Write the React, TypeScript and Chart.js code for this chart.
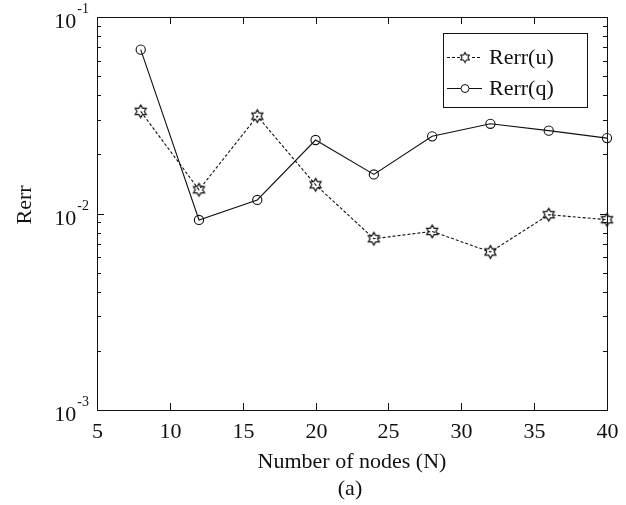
import React, { useEffect, useRef } from 'react';
import { Chart, registerables } from 'chart.js';

Chart.register(...registerables);

const nodes = [8, 12, 16, 20, 24, 28, 32, 36, 40];
const rerrU = [0.0331, 0.0132, 0.0313, 0.014, 0.00744, 0.00811, 0.00637, 0.00986, 0.0093];
const rerrQ = [0.0682, 0.00927, 0.01172, 0.02366, 0.0158, 0.0247, 0.0286, 0.0264, 0.0242];
const xTicks = [5, 10, 15, 20, 25, 30, 35, 40];
const yExponents = [-3, -2, -1];
const seriesNames = ['Rerr(u)', 'Rerr(q)'];
const xTitle = 'Number of nodes (N)';
const yTitle = 'Rerr';
const caption = '(a)';

const FONT = '"Liberation Serif", "Times New Roman", serif';
const INK = '#111111';

function makeHexagram(R: number, lw: number): HTMLCanvasElement {
  const size = Math.ceil(R * 2 + 4);
  const c = document.createElement('canvas');
  c.width = size;
  c.height = size;
  const g = c.getContext('2d')!;
  const cx = size / 2;
  const cy = size / 2;
  const r = R / Math.sqrt(3);
  g.lineWidth = lw;
  g.strokeStyle = INK;
  g.beginPath();
  for (let i = 0; i < 12; i++) {
    const ang = -Math.PI / 2 + (i * Math.PI) / 6;
    const rad = i % 2 === 0 ? R : r;
    const x = cx + rad * Math.cos(ang);
    const y = cy + rad * Math.sin(ang);
    if (i === 0) g.moveTo(x, y);
    else g.lineTo(x, y);
  }
  g.closePath();
  g.stroke();
  return c;
}

export default function App() {
  const ref = useRef<HTMLCanvasElement | null>(null);

  useEffect(() => {
    const canvas = ref.current;
    if (!canvas) return;
    const star = makeHexagram(6.4, 1.2);
    const starSmall = makeHexagram(5, 1.1);

    const framePlugin = {
      id: 'frame',
      afterDraw(chart: any) {
        const ctx = chart.ctx as CanvasRenderingContext2D;
        const { left, right, top, bottom } = chart.chartArea;
        const xs = chart.scales.x;
        const ys = chart.scales.y;
        ctx.save();
        ctx.strokeStyle = INK;
        ctx.fillStyle = INK;
        ctx.lineWidth = 1;
        ctx.strokeRect(Math.round(left) + 0.5, Math.round(top) + 0.5, Math.round(right - left), Math.round(bottom - top));
        ctx.font = `22px ${FONT}`;
        ctx.textAlign = 'center';
        ctx.textBaseline = 'alphabetic';
        for (const v of xTicks) {
          const px = Math.round(xs.getPixelForValue(v)) + 0.5;
          ctx.beginPath();
          ctx.moveTo(px, bottom);
          ctx.lineTo(px, bottom - 7);
          ctx.moveTo(px, top);
          ctx.lineTo(px, top + 7);
          ctx.stroke();
          ctx.fillText(String(v), px, bottom + 28);
        }
        for (const e of yExponents) {
          const py = Math.round(ys.getPixelForValue(Math.pow(10, e))) + 0.5;
          ctx.beginPath();
          ctx.moveTo(left, py);
          ctx.lineTo(left + 7, py);
          ctx.moveTo(right, py);
          ctx.lineTo(right - 7, py);
          ctx.stroke();
          if (e < yExponents[yExponents.length - 1]) {
            for (let m = 2; m <= 9; m++) {
              const pm = Math.round(ys.getPixelForValue(m * Math.pow(10, e))) + 0.5;
              ctx.beginPath();
              ctx.moveTo(left, pm);
              ctx.lineTo(left + 4, pm);
              ctx.moveTo(right, pm);
              ctx.lineTo(right - 4, pm);
              ctx.stroke();
            }
          }
          ctx.font = `14px ${FONT}`;
          const sup = String(e);
          const supW = ctx.measureText(sup).width;
          const supX = left - 8 - supW;
          ctx.textAlign = 'left';
          ctx.fillText(sup, supX, py - 5);
          ctx.font = `22px ${FONT}`;
          ctx.textAlign = 'right';
          ctx.fillText('10', supX - 1, py + 10);
        }
        ctx.font = `22px ${FONT}`;
        ctx.textAlign = 'center';
        ctx.fillText(xTitle, (left + right) / 2, 468);
        ctx.fillText(caption, 350, 495);
        ctx.save();
        ctx.translate(31, 205);
        ctx.rotate(-Math.PI / 2);
        ctx.fillText(yTitle, 0, 0);
        ctx.restore();

        // legend
        ctx.fillStyle = '#ffffff';
        ctx.fillRect(443.5, 33.5, 144, 74);
        ctx.strokeStyle = INK;
        ctx.strokeRect(443.5, 33.5, 144, 74);
        const rows = [57, 88];
        ctx.fillStyle = INK;
        ctx.font = `22px ${FONT}`;
        ctx.textAlign = 'left';
        ctx.textBaseline = 'middle';
        rows.forEach((ry, i) => {
          ctx.beginPath();
          ctx.setLineDash(i === 0 ? [3, 2] : []);
          ctx.moveTo(447, ry + 0.5);
          ctx.lineTo(482, ry + 0.5);
          ctx.stroke();
          ctx.setLineDash([]);
          if (i === 0) {
            ctx.fillStyle = '#ffffff';
            ctx.fillRect(460, ry - 5, 10, 11);
            ctx.drawImage(starSmall, 465 - starSmall.width / 2, ry + 0.5 - starSmall.height / 2);
            ctx.fillStyle = INK;
          } else {
            ctx.fillStyle = '#ffffff';
            ctx.beginPath();
            ctx.arc(465, ry + 0.5, 4, 0, Math.PI * 2);
            ctx.fill();
            ctx.stroke();
            ctx.fillStyle = INK;
          }
          ctx.fillText(seriesNames[i], 489, ry + 1);
        });
        ctx.restore();
      },
    };

    const chart = new Chart(canvas, {
      type: 'line',
      data: {
        datasets: [
          {
            label: seriesNames[0],
            data: nodes.map((x, i) => ({ x, y: rerrU[i] })),
            borderColor: INK,
            borderWidth: 1.1,
            borderDash: [3, 2],
            pointStyle: star as any,
            pointRadius: 6,
            pointBorderColor: INK,
            fill: false,
            tension: 0,
            clip: false as any,
          },
          {
            label: seriesNames[1],
            data: nodes.map((x, i) => ({ x, y: rerrQ[i] })),
            borderColor: INK,
            borderWidth: 1.1,
            pointStyle: 'circle',
            pointRadius: 4.6,
            pointBorderWidth: 1.1,
            pointBorderColor: INK,
            pointBackgroundColor: 'rgba(0,0,0,0)',
            fill: false,
            tension: 0,
            clip: false as any,
          },
        ],
      },
      options: {
        responsive: false,
        animation: false,
        devicePixelRatio: 1,
        events: [],
        layout: { padding: { left: 97, top: 17, right: 19, bottom: 95 } },
        scales: {
          x: { type: 'linear', min: 5, max: 40, display: false },
          y: { type: 'logarithmic', min: 0.001, max: 0.1, display: false },
        },
        plugins: {
          legend: { display: false },
          tooltip: { enabled: false },
        },
      },
      plugins: [framePlugin],
    });
    return () => chart.destroy();
  }, []);

  return (
    <div style={{ position: 'absolute', left: 0, top: 0, width: 626, height: 505, background: '#fff' }}>
      <canvas ref={ref} width={626} height={505} style={{ display: 'block' }} />
    </div>
  );
}
